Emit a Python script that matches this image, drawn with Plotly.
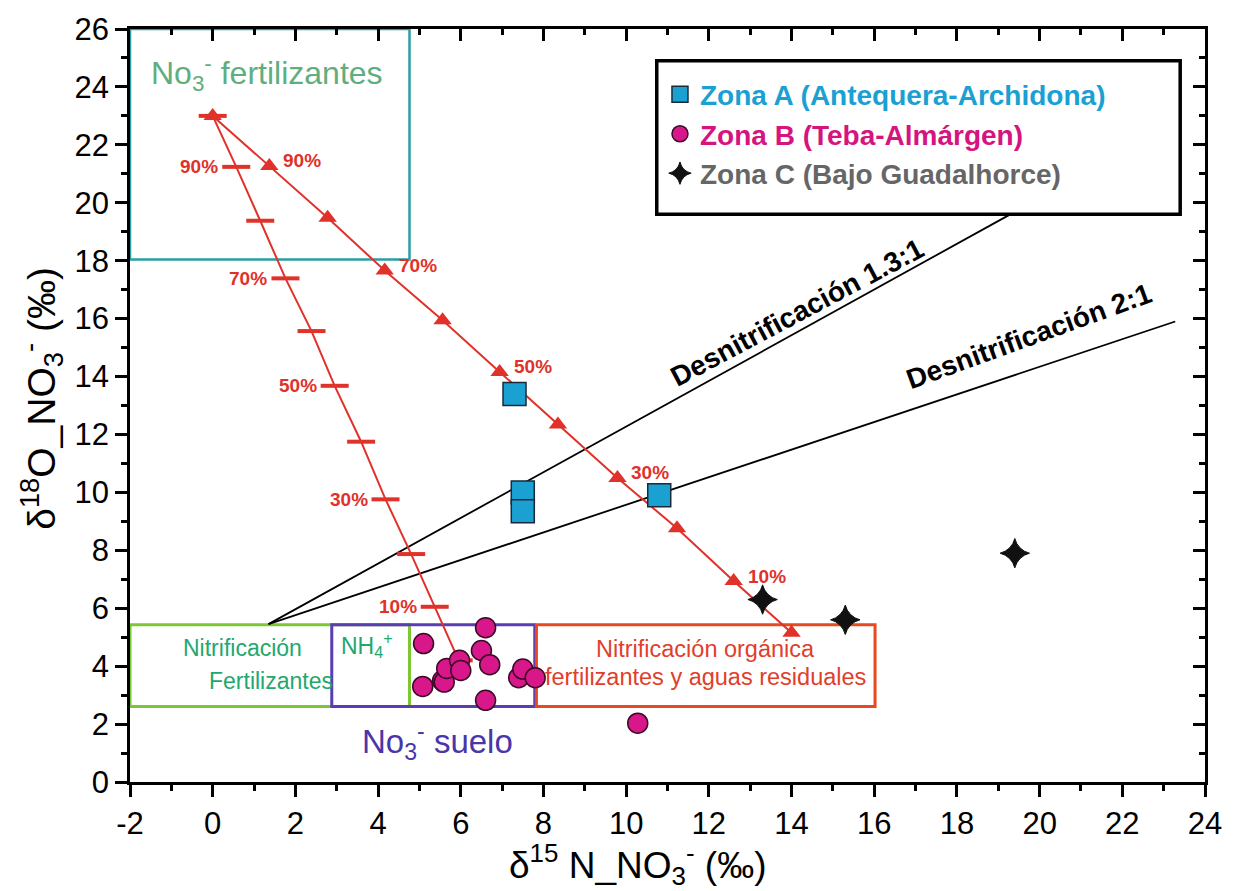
import plotly.graph_objects as go

# ---------------- data ----------------
zoneA_x = [7.3, 7.5, 7.5, 10.8]
zoneA_y = [13.4, 10.0, 9.35, 9.9]

zoneB_x = [5.1, 5.08, 5.56, 5.6, 5.66, 5.97, 6.0, 6.5, 6.6, 6.7, 6.6, 7.4, 7.5, 7.8, 10.28]
zoneB_y = [4.78, 3.3, 3.5, 3.45, 3.92, 4.2, 3.85, 4.54, 5.33, 4.05, 2.82, 3.6, 3.9, 3.6, 2.03]

zoneC_x = [13.3, 15.3, 19.4]
zoneC_y = [6.3, 5.6, 7.9]

# mixing line fertilizer NO3 -> organic nitrification (triangles)
mixT_x = [0.0, 1.37, 2.78, 4.16, 5.56, 6.94, 8.35, 9.79, 11.23, 12.6, 14.0]
mixT_y = [23.0, 21.27, 19.48, 17.66, 15.94, 14.16, 12.34, 10.5, 8.76, 6.94, 5.15]
# mixing line fertilizer NO3 -> soil NO3 (bars)
mixB_x = [0.0, 0.57, 1.15, 1.76, 2.39, 2.95, 3.59, 4.18, 4.8, 5.37, 5.95]
mixB_y = [23.0, 21.24, 19.38, 17.39, 15.57, 13.68, 11.75, 9.76, 7.87, 6.05, 4.2]
mix_labels = ["", "90%", "", "70%", "", "50%", "", "30%", "", "10%", ""]

# denitrification lines (start, end)
den13_x = [1.35, 19.29]
den13_y = [5.45, 19.6]
den21_x = [1.35, 23.28]
den21_y = [5.45, 15.9]

x_ticks = list(range(-2, 25, 2))
x_ticktext = [str(v) for v in x_ticks]
y_ticks = list(range(0, 27, 2))
y_ticktext = [str(v) for v in y_ticks]

# ---------------- styles ----------------
RED = "#e0322b"
FONT = "Liberation Sans, Arial, sans-serif"

fig = go.Figure()

shapes = [
    dict(type="rect", x0=-2, x1=4.76, y0=18.04, y1=26, line=dict(color="#2a9fa3", width=2.5), layer="below"),
    dict(type="rect", x0=-2, x1=4.76, y0=2.61, y1=5.43, line=dict(color="#7cc832", width=3), layer="below"),
    dict(type="rect", x0=2.88, x1=7.79, y0=2.61, y1=5.43, line=dict(color="#5a3db3", width=3), layer="below"),
    dict(type="rect", x0=7.83, x1=16.02, y0=2.61, y1=5.43, line=dict(color="#e8491f", width=3), layer="below"),
    # legend frame
    dict(type="rect", x0=10.74, x1=23.4, y0=19.6, y1=24.9, line=dict(color="black", width=3.5),
         fillcolor="white", layer="below"),
]

fig.add_trace(go.Scatter(x=den13_x, y=den13_y, mode="lines", line=dict(color="black", width=1.8),
                         showlegend=False, hoverinfo="skip"))
fig.add_trace(go.Scatter(x=den21_x, y=den21_y, mode="lines", line=dict(color="black", width=1.8),
                         showlegend=False, hoverinfo="skip"))

fig.add_trace(go.Scatter(x=mixB_x, y=mixB_y, mode="lines+markers",
                         line=dict(color=RED, width=2),
                         marker=dict(symbol="line-ew", size=20, line=dict(color=RED, width=4)),
                         showlegend=False, hoverinfo="skip"))
fig.add_trace(go.Scatter(x=mixT_x, y=mixT_y, mode="lines+markers",
                         line=dict(color=RED, width=2),
                         marker=dict(symbol="triangle-up", size=16, color=RED),
                         showlegend=False, hoverinfo="skip"))

fig.add_trace(go.Scatter(x=zoneA_x, y=zoneA_y, mode="markers",
                         name='<span style="color:#1aa0d2"><b>Zona A (Antequera-Archidona)</b></span>',
                         marker=dict(symbol="square", size=23, color="#1ba1d1",
                                     line=dict(color="#1a2a3a", width=1.5))))
fig.add_trace(go.Scatter(x=zoneB_x, y=zoneB_y, mode="markers",
                         name='<span style="color:#d5147f"><b>Zona B (Teba-Almárgen)</b></span>',
                         marker=dict(symbol="circle", size=20, color="#d8178a",
                                     line=dict(color="#3a0a25", width=1.5))))
fig.add_trace(go.Scatter(x=zoneC_x, y=zoneC_y, mode="markers",
                         name='<span style="color:#666666"><b>Zona C (Bajo Guadalhorce)</b></span>',
                         marker=dict(symbol="star-diamond", size=21, color="#111111",
                                     line=dict(color="#111111", width=1))))

fig.add_trace(go.Scatter(x=[], y=[], xaxis="x2", yaxis="y2", showlegend=False, hoverinfo="skip"))

annotations = []
for i, lab in enumerate(mix_labels):
    if not lab:
        continue
    annotations.append(dict(x=mixB_x[i], y=mixB_y[i], text=f"<b>{lab}</b>", showarrow=False,
                            xanchor="right", yanchor="middle", xshift=-16,
                            font=dict(color=RED, size=19, family=FONT)))
    annotations.append(dict(x=mixT_x[i], y=mixT_y[i], text=f"<b>{lab}</b>", showarrow=False,
                            xanchor="left", yanchor="middle", xshift=12, yshift=5,
                            font=dict(color=RED, size=19, family=FONT)))

annotations += [
    dict(x=1.32, y=24.47, text="No<sub>3</sub><sup>-</sup> fertilizantes", showarrow=False,
         font=dict(color="#5fae7e", size=32, family=FONT)),
    dict(x=0.72, y=4.64, text="Nitrificación", showarrow=False,
         font=dict(color="#22a86e", size=23, family=FONT)),
    dict(x=1.42, y=3.5, text="Fertilizantes", showarrow=False,
         font=dict(color="#22a86e", size=23, family=FONT)),
    dict(x=3.74, y=4.72, text="NH<sub>4</sub><sup>+</sup>", showarrow=False,
         font=dict(color="#22a86e", size=23, family=FONT)),
    dict(x=5.44, y=1.41, text="No<sub>3</sub><sup>-</sup> suelo", showarrow=False,
         font=dict(color="#4a36a8", size=33, family=FONT)),
    dict(x=11.93, y=4.6, text="Nitrificación orgánica", showarrow=False,
         font=dict(color="#e0402a", size=23.5, family=FONT)),
    dict(x=11.93, y=3.64, text="fertilizantes y aguas residuales", showarrow=False,
         font=dict(color="#e0402a", size=23.5, family=FONT)),
    dict(x=14.38, y=15.95, text="<b>Desnitrificación 1.3:1</b>", showarrow=False, textangle=-28,
         xshift=-10, yshift=8, font=dict(color="black", size=28, family=FONT)),
    dict(x=19.78, y=15.09, text="<b>Desnitrificación 2:1</b>", showarrow=False, textangle=-20,
         xshift=-2, yshift=8, font=dict(color="black", size=28, family=FONT)),
    # axis titles
    dict(x=0.472, y=-0.11, xref="paper", yref="paper", xanchor="center", yanchor="middle",
         text="δ<sup>15</sup> N_NO<sub>3</sub><sup>-</sup> (‰)", showarrow=False,
         font=dict(color="black", size=37, family=FONT)),
    dict(x=-0.082, y=0.51, xref="paper", yref="paper", xanchor="center", yanchor="middle",
         text="δ<sup>18</sup>O_NO<sub>3</sub><sup>-</sup> (‰)", showarrow=False, textangle=-90,
         font=dict(color="black", size=39, family=FONT)),
]

axis_common = dict(showgrid=False, zeroline=False, showline=True, linecolor="black", linewidth=2.5,
                   tickcolor="black", tickwidth=2.5, ticklen=12, fixedrange=True)

fig.update_layout(
    width=1235, height=891,
    margin=dict(l=130, r=30, t=25, b=109),
    paper_bgcolor="white", plot_bgcolor="white",
    font=dict(family=FONT, color="black"),
    shapes=shapes,
    annotations=annotations,
    xaxis=dict(**axis_common, range=[-2, 24], tickvals=x_ticks, ticktext=x_ticktext, ticks="outside",
               tickfont=dict(size=31),
               minor=dict(ticks="outside", dtick=1, ticklen=6, tickwidth=2.5, tickcolor="black")),
    yaxis=dict(**axis_common, range=[0, 26], tickvals=y_ticks, ticktext=y_ticktext, ticks="outside",
               tickfont=dict(size=31),
               minor=dict(ticks="outside", dtick=1, ticklen=6, tickwidth=2.5, tickcolor="black")),
    xaxis2=dict(**axis_common, range=[-2, 24], tickvals=x_ticks, ticks="inside", overlaying="x",
                side="top", anchor="y2", showticklabels=False,
                minor=dict(ticks="inside", dtick=1, ticklen=6, tickwidth=2.5, tickcolor="black")),
    yaxis2=dict(**axis_common, range=[0, 26], tickvals=y_ticks, ticks="inside", overlaying="y",
                side="right", anchor="x2", showticklabels=False,
                minor=dict(ticks="inside", dtick=1, ticklen=6, tickwidth=2.5, tickcolor="black")),
    legend=dict(x=0.493, y=0.946, xanchor="left", yanchor="top", bgcolor="rgba(0,0,0,0)",
                borderwidth=0, font=dict(size=28, family=FONT), itemsizing="trace",
                tracegroupgap=0),
)

fig.write_html("out.html")
